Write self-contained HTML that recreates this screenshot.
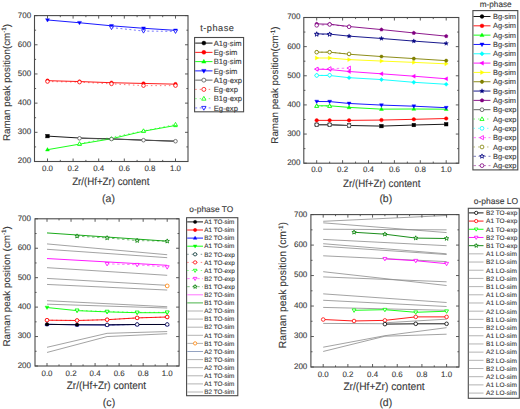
<!DOCTYPE html>
<html><head><meta charset="utf-8"><style>
html,body{margin:0;padding:0;background:#fff;}
svg{display:block;font-family:"Liberation Sans", sans-serif;text-rendering:geometricPrecision;}
text{stroke:#3a3a3a;stroke-width:0.12px;}
</style></head><body>
<svg width="520" height="409" viewBox="0 0 520 409">
<rect width="520" height="409" fill="#fff"/>
<path d="M47.5 19.98 L79.5 22.75 L111.5 25.81 L143.5 28.29 L175.5 30.34" stroke="#0000ff" stroke-width="0.9" fill="none"/>
<path d="M47.5 22.05 L49.47 18.63 L45.53 18.63Z" fill="#0000ff" stroke="#0000ff" stroke-width="0.4"/>
<path d="M79.5 24.82 L81.47 21.4 L77.53 21.4Z" fill="#0000ff" stroke="#0000ff" stroke-width="0.4"/>
<path d="M111.5 27.88 L113.47 24.47 L109.53 24.47Z" fill="#0000ff" stroke="#0000ff" stroke-width="0.4"/>
<path d="M143.5 30.36 L145.47 26.95 L141.53 26.95Z" fill="#0000ff" stroke="#0000ff" stroke-width="0.4"/>
<path d="M175.5 32.41 L177.47 28.99 L173.53 28.99Z" fill="#0000ff" stroke="#0000ff" stroke-width="0.4"/>
<path d="M47.5 80.67 L79.5 81.55 L111.5 82.71 L143.5 83.44 L175.5 84.17" stroke="#ff0000" stroke-width="0.9" fill="none"/>
<circle cx="47.5" cy="80.67" r="1.8" fill="#ff0000" stroke="#ff0000" stroke-width="0.4"/>
<circle cx="79.5" cy="81.55" r="1.8" fill="#ff0000" stroke="#ff0000" stroke-width="0.4"/>
<circle cx="111.5" cy="82.71" r="1.8" fill="#ff0000" stroke="#ff0000" stroke-width="0.4"/>
<circle cx="143.5" cy="83.44" r="1.8" fill="#ff0000" stroke="#ff0000" stroke-width="0.4"/>
<circle cx="175.5" cy="84.17" r="1.8" fill="#ff0000" stroke="#ff0000" stroke-width="0.4"/>
<path d="M47.5 136.11 L79.5 138.01 L111.5 138.89 L143.5 140.11 L175.5 141.19" stroke="#000000" stroke-width="0.9" fill="none"/>
<rect x="45.7" y="134.31" width="3.6" height="3.6" fill="#000000" stroke="#000000" stroke-width="0.4"/>
<path d="M47.5 149.68 L79.5 144.14 L111.5 138.74 L143.5 131.21 L175.5 125.46" stroke="#00ff00" stroke-width="0.9" fill="none"/>
<path d="M47.5 147.61 L49.47 151.03 L45.53 151.03Z" fill="#00ff00" stroke="#00ff00" stroke-width="0.4"/>
<path d="M79.5 142.07 L81.47 145.48 L77.53 145.48Z" fill="#00ff00" stroke="#00ff00" stroke-width="0.4"/>
<path d="M111.5 136.67 L113.47 140.09 L109.53 140.09Z" fill="#00ff00" stroke="#00ff00" stroke-width="0.4"/>
<path d="M143.5 129.14 L145.47 132.56 L141.53 132.56Z" fill="#00ff00" stroke="#00ff00" stroke-width="0.4"/>
<path d="M175.5 123.39 L177.47 126.81 L173.53 126.81Z" fill="#00ff00" stroke="#00ff00" stroke-width="0.4"/>
<path d="M111.5 27.56 L143.5 31.07 L175.5 31.36" stroke="#0000ff" stroke-width="0.9" fill="none" stroke-dasharray="2 2.5" opacity="0.6"/>
<path d="M111.5 29.63 L113.47 26.22 L109.53 26.22Z" fill="white" stroke="#0000ff" stroke-width="0.8"/>
<path d="M143.5 33.14 L145.47 29.72 L141.53 29.72Z" fill="white" stroke="#0000ff" stroke-width="0.8"/>
<path d="M175.5 33.43 L177.47 30.01 L173.53 30.01Z" fill="white" stroke="#0000ff" stroke-width="0.8"/>
<path d="M47.5 81.55 L79.5 82.13 L111.5 83.88 L143.5 85.63 L175.5 85.63" stroke="#ff0000" stroke-width="0.9" fill="none" stroke-dasharray="1.5 3" opacity="0.6"/>
<circle cx="47.5" cy="81.55" r="1.8" fill="white" stroke="#ff0000" stroke-width="0.8"/>
<circle cx="79.5" cy="82.13" r="1.8" fill="white" stroke="#ff0000" stroke-width="0.8"/>
<circle cx="111.5" cy="83.88" r="1.8" fill="white" stroke="#ff0000" stroke-width="0.8"/>
<circle cx="143.5" cy="85.63" r="1.8" fill="white" stroke="#ff0000" stroke-width="0.8"/>
<circle cx="175.5" cy="85.63" r="1.8" fill="white" stroke="#ff0000" stroke-width="0.8"/>
<path d="M79.5 138.3 L111.5 139.03 L143.5 140.2 L175.5 141.22" stroke="#555555" stroke-width="0.9" fill="none"/>
<circle cx="79.5" cy="138.3" r="1.8" fill="white" stroke="#555555" stroke-width="0.8"/>
<circle cx="111.5" cy="139.03" r="1.8" fill="white" stroke="#555555" stroke-width="0.8"/>
<circle cx="143.5" cy="140.2" r="1.8" fill="white" stroke="#555555" stroke-width="0.8"/>
<circle cx="175.5" cy="141.22" r="1.8" fill="white" stroke="#555555" stroke-width="0.8"/>
<path d="M79.5 143.7 L143.5 130.86 L175.5 124.44" stroke="#00ff00" stroke-width="0.9" fill="none" stroke-dasharray="1.5 3" opacity="0.6"/>
<path d="M79.5 141.63 L81.47 145.05 L77.53 145.05Z" fill="white" stroke="#00ff00" stroke-width="0.8"/>
<path d="M143.5 128.79 L145.47 132.21 L141.53 132.21Z" fill="white" stroke="#00ff00" stroke-width="0.8"/>
<path d="M175.5 122.37 L177.47 125.79 L173.53 125.79Z" fill="white" stroke="#00ff00" stroke-width="0.8"/>
<rect x="34.5" y="15.6" width="153.5" height="145.9" fill="none" stroke="#4a4a4a" stroke-width="1.1"/>
<path d="M47.5 161.5v-3M47.5 15.6v3M60.3 161.5v-1.6M60.3 15.6v1.6M73.1 161.5v-3M73.1 15.6v3M85.9 161.5v-1.6M85.9 15.6v1.6M98.7 161.5v-3M98.7 15.6v3M111.5 161.5v-1.6M111.5 15.6v1.6M124.3 161.5v-3M124.3 15.6v3M137.1 161.5v-1.6M137.1 15.6v1.6M149.9 161.5v-3M149.9 15.6v3M162.7 161.5v-1.6M162.7 15.6v1.6M175.5 161.5v-3M175.5 15.6v3M34.5 161.5h3M188 161.5h-3M34.5 146.91h1.6M188 146.91h-1.6M34.5 132.32h3M188 132.32h-3M34.5 117.73h1.6M188 117.73h-1.6M34.5 103.14h3M188 103.14h-3M34.5 88.55h1.6M188 88.55h-1.6M34.5 73.96h3M188 73.96h-3M34.5 59.37h1.6M188 59.37h-1.6M34.5 44.78h3M188 44.78h-3M34.5 30.19h1.6M188 30.19h-1.6M34.5 15.6h3M188 15.6h-3" stroke="#4a4a4a" stroke-width="0.9" fill="none"/>
<text x="31.2" y="163.4" font-size="8.0" text-anchor="end" fill="#3a3a3a">200</text>
<text x="31.2" y="134.22" font-size="8.0" text-anchor="end" fill="#3a3a3a">300</text>
<text x="31.2" y="105.04" font-size="8.0" text-anchor="end" fill="#3a3a3a">400</text>
<text x="31.2" y="75.86" font-size="8.0" text-anchor="end" fill="#3a3a3a">500</text>
<text x="31.2" y="46.68" font-size="8.0" text-anchor="end" fill="#3a3a3a">600</text>
<text x="31.2" y="17.5" font-size="8.0" text-anchor="end" fill="#3a3a3a">700</text>
<text x="47.5" y="170.6" font-size="7.9" text-anchor="middle" fill="#3a3a3a">0.0</text>
<text x="73.1" y="170.6" font-size="7.9" text-anchor="middle" fill="#3a3a3a">0.2</text>
<text x="98.7" y="170.6" font-size="7.9" text-anchor="middle" fill="#3a3a3a">0.4</text>
<text x="124.3" y="170.6" font-size="7.9" text-anchor="middle" fill="#3a3a3a">0.6</text>
<text x="149.9" y="170.6" font-size="7.9" text-anchor="middle" fill="#3a3a3a">0.8</text>
<text x="175.5" y="170.6" font-size="7.9" text-anchor="middle" fill="#3a3a3a">1.0</text>
<text transform="translate(9.7 82.5) rotate(-90)" x="0" y="0" font-size="9.8" text-anchor="middle" fill="#3a3a3a">Raman peak position(cm<tspan dy="-3.6" font-size="6.3">-1</tspan><tspan dy="3.6">)</tspan></text>
<text transform="translate(110.8 184.6) scale(1 1.1)" font-size="9.7" text-anchor="middle" fill="#3a3a3a">Zr/(Hf+Zr) content</text>
<text x="108.5" y="201.5" font-size="10.5" text-anchor="middle" fill="#3a3a3a">(a)</text>
<text x="217.3" y="30.8" font-size="9.2" text-anchor="middle" fill="#3a3a3a" letter-spacing="0.5">t-phase</text>
<rect x="194.6" y="37.5" width="49" height="74.3" fill="white" stroke="#4a4a4a" stroke-width="1.1"/>
<path d="M195.2 43.1H212.5" stroke="#000000" stroke-width="0.9"/>
<circle cx="203.85" cy="43.1" r="2" fill="#000000" stroke="#000000" stroke-width="0.4"/>
<text x="213.8" y="45.84" font-size="7.6" fill="#3a3a3a">A1g-sim</text>
<path d="M195.2 52.36H212.5" stroke="#ff0000" stroke-width="0.9"/>
<circle cx="203.85" cy="52.36" r="2" fill="#ff0000" stroke="#ff0000" stroke-width="0.4"/>
<text x="213.8" y="55.1" font-size="7.6" fill="#3a3a3a">Eg-sim</text>
<path d="M195.2 61.62H212.5" stroke="#00ff00" stroke-width="0.9"/>
<path d="M203.85 59.32 L206.03 63.12 L201.66 63.12Z" fill="#00ff00" stroke="#00ff00" stroke-width="0.4"/>
<text x="213.8" y="64.36" font-size="7.6" fill="#3a3a3a">B1g-sim</text>
<path d="M195.2 70.88H212.5" stroke="#0000ff" stroke-width="0.9"/>
<path d="M203.85 73.18 L206.03 69.38 L201.66 69.38Z" fill="#0000ff" stroke="#0000ff" stroke-width="0.4"/>
<text x="213.8" y="73.62" font-size="7.6" fill="#3a3a3a">Eg-sim</text>
<path d="M195.2 80.14H212.5" stroke="#555555" stroke-width="0.9"/>
<circle cx="203.85" cy="80.14" r="2" fill="white" stroke="#555555" stroke-width="0.8"/>
<text x="213.8" y="82.88" font-size="7.6" fill="#3a3a3a">A1g-exp</text>
<path d="M195.2 89.4H212.5" stroke="#ff0000" stroke-width="0.9" stroke-dasharray="1.5 3" opacity="0.55"/>
<circle cx="203.85" cy="89.4" r="2" fill="white" stroke="#ff0000" stroke-width="0.8"/>
<text x="213.8" y="92.14" font-size="7.6" fill="#3a3a3a">Eg-exp</text>
<path d="M195.2 98.66H212.5" stroke="#00ff00" stroke-width="0.9" stroke-dasharray="1.5 3" opacity="0.55"/>
<path d="M203.85 96.36 L206.03 100.16 L201.66 100.16Z" fill="white" stroke="#00ff00" stroke-width="0.8"/>
<text x="213.8" y="101.4" font-size="7.6" fill="#3a3a3a">B1g-exp</text>
<path d="M195.2 107.92H212.5" stroke="#0000ff" stroke-width="0.9" stroke-dasharray="2 2.5" opacity="0.55"/>
<path d="M203.85 110.22 L206.03 106.42 L201.66 106.42Z" fill="white" stroke="#0000ff" stroke-width="0.8"/>
<text x="213.8" y="110.66" font-size="7.6" fill="#3a3a3a">Eg-exp</text>
<path d="M316.7 124.74 L329.65 124.74 L349.07 125.49 L381.45 126.1 L413.82 125.03 L446.2 124.21" stroke="#000000" stroke-width="0.9" fill="none"/>
<rect x="314.9" y="122.94" width="3.6" height="3.6" fill="#000000" stroke="#000000" stroke-width="0.4"/>
<rect x="327.85" y="122.94" width="3.6" height="3.6" fill="#000000" stroke="#000000" stroke-width="0.4"/>
<rect x="347.27" y="123.69" width="3.6" height="3.6" fill="#000000" stroke="#000000" stroke-width="0.4"/>
<rect x="379.65" y="124.3" width="3.6" height="3.6" fill="#000000" stroke="#000000" stroke-width="0.4"/>
<rect x="412.02" y="123.23" width="3.6" height="3.6" fill="#000000" stroke="#000000" stroke-width="0.4"/>
<rect x="444.4" y="122.41" width="3.6" height="3.6" fill="#000000" stroke="#000000" stroke-width="0.4"/>
<path d="M316.7 120.36 L329.65 120.36 L349.07 120.36 L381.45 120.07 L413.82 119.32 L446.2 118.5" stroke="#ff0000" stroke-width="0.9" fill="none"/>
<circle cx="316.7" cy="120.36" r="1.8" fill="#ff0000" stroke="#ff0000" stroke-width="0.4"/>
<circle cx="329.65" cy="120.36" r="1.8" fill="#ff0000" stroke="#ff0000" stroke-width="0.4"/>
<circle cx="349.07" cy="120.36" r="1.8" fill="#ff0000" stroke="#ff0000" stroke-width="0.4"/>
<circle cx="381.45" cy="120.07" r="1.8" fill="#ff0000" stroke="#ff0000" stroke-width="0.4"/>
<circle cx="413.82" cy="119.32" r="1.8" fill="#ff0000" stroke="#ff0000" stroke-width="0.4"/>
<circle cx="446.2" cy="118.5" r="1.8" fill="#ff0000" stroke="#ff0000" stroke-width="0.4"/>
<path d="M316.7 105.79 L329.65 105.79 L349.07 107.4 L381.45 109.15 L413.82 109 L446.2 109.2" stroke="#00ff00" stroke-width="0.9" fill="none"/>
<path d="M316.7 103.72 L318.67 107.14 L314.73 107.14Z" fill="#00ff00" stroke="#00ff00" stroke-width="0.4"/>
<path d="M329.65 103.72 L331.62 107.14 L327.68 107.14Z" fill="#00ff00" stroke="#00ff00" stroke-width="0.4"/>
<path d="M349.07 105.33 L351.04 108.74 L347.11 108.74Z" fill="#00ff00" stroke="#00ff00" stroke-width="0.4"/>
<path d="M381.45 107.08 L383.42 110.49 L379.48 110.49Z" fill="#00ff00" stroke="#00ff00" stroke-width="0.4"/>
<path d="M413.82 106.93 L415.79 110.35 L411.86 110.35Z" fill="#00ff00" stroke="#00ff00" stroke-width="0.4"/>
<path d="M446.2 107.13 L448.17 110.55 L444.23 110.55Z" fill="#00ff00" stroke="#00ff00" stroke-width="0.4"/>
<path d="M316.7 101.51 L329.65 101.57 L349.07 103.46 L381.45 105.09 L413.82 106.2 L446.2 107.69" stroke="#0000ff" stroke-width="0.9" fill="none"/>
<path d="M316.7 103.58 L318.67 100.17 L314.73 100.17Z" fill="#0000ff" stroke="#0000ff" stroke-width="0.4"/>
<path d="M329.65 103.64 L331.62 100.22 L327.68 100.22Z" fill="#0000ff" stroke="#0000ff" stroke-width="0.4"/>
<path d="M349.07 105.53 L351.04 102.12 L347.11 102.12Z" fill="#0000ff" stroke="#0000ff" stroke-width="0.4"/>
<path d="M381.45 107.16 L383.42 103.75 L379.48 103.75Z" fill="#0000ff" stroke="#0000ff" stroke-width="0.4"/>
<path d="M413.82 108.27 L415.79 104.86 L411.86 104.86Z" fill="#0000ff" stroke="#0000ff" stroke-width="0.4"/>
<path d="M446.2 109.76 L448.17 106.34 L444.23 106.34Z" fill="#0000ff" stroke="#0000ff" stroke-width="0.4"/>
<path d="M316.7 75.4 L329.65 75.49 L349.07 77.7 L381.45 79.57 L413.82 82.31 L446.2 84.29" stroke="#00ffff" stroke-width="0.9" fill="none"/>
<path d="M316.7 73.33 L318.77 75.4 L316.7 77.47 L314.63 75.4Z" fill="#00ffff" stroke="#00ffff" stroke-width="0.4"/>
<path d="M329.65 73.42 L331.72 75.49 L329.65 77.56 L327.58 75.49Z" fill="#00ffff" stroke="#00ffff" stroke-width="0.4"/>
<path d="M349.07 75.63 L351.14 77.7 L349.07 79.77 L347 77.7Z" fill="#00ffff" stroke="#00ffff" stroke-width="0.4"/>
<path d="M381.45 77.5 L383.52 79.57 L381.45 81.64 L379.38 79.57Z" fill="#00ffff" stroke="#00ffff" stroke-width="0.4"/>
<path d="M413.82 80.24 L415.89 82.31 L413.82 84.38 L411.75 82.31Z" fill="#00ffff" stroke="#00ffff" stroke-width="0.4"/>
<path d="M446.2 82.22 L448.27 84.29 L446.2 86.36 L444.13 84.29Z" fill="#00ffff" stroke="#00ffff" stroke-width="0.4"/>
<path d="M316.7 69.19 L329.65 69.51 L349.07 71.5 L381.45 73.8 L413.82 76.19 L446.2 78.78" stroke="#ff00ff" stroke-width="0.9" fill="none"/>
<path d="M314.63 69.19 L318.05 67.23 L318.05 71.16Z" fill="#ff00ff" stroke="#ff00ff" stroke-width="0.4"/>
<path d="M327.58 69.51 L331 67.55 L331 71.48Z" fill="#ff00ff" stroke="#ff00ff" stroke-width="0.4"/>
<path d="M347 71.5 L350.42 69.53 L350.42 73.46Z" fill="#ff00ff" stroke="#ff00ff" stroke-width="0.4"/>
<path d="M379.38 73.8 L382.8 71.83 L382.8 75.76Z" fill="#ff00ff" stroke="#ff00ff" stroke-width="0.4"/>
<path d="M411.75 76.19 L415.17 74.22 L415.17 78.15Z" fill="#ff00ff" stroke="#ff00ff" stroke-width="0.4"/>
<path d="M444.13 78.78 L447.55 76.81 L447.55 80.75Z" fill="#ff00ff" stroke="#ff00ff" stroke-width="0.4"/>
<path d="M316.7 58 L329.65 58 L349.07 59.61 L381.45 61.06 L413.82 62.38 L446.2 63.83" stroke="#ffff00" stroke-width="0.9" fill="none"/>
<path d="M318.77 58 L315.35 56.04 L315.35 59.97Z" fill="#ffff00" stroke="#ffff00" stroke-width="0.4"/>
<path d="M331.72 58 L328.3 56.04 L328.3 59.97Z" fill="#ffff00" stroke="#ffff00" stroke-width="0.4"/>
<path d="M351.14 59.61 L347.73 57.64 L347.73 61.57Z" fill="#ffff00" stroke="#ffff00" stroke-width="0.4"/>
<path d="M383.52 61.06 L380.1 59.1 L380.1 63.03Z" fill="#ffff00" stroke="#ffff00" stroke-width="0.4"/>
<path d="M415.89 62.38 L412.48 60.41 L412.48 64.34Z" fill="#ffff00" stroke="#ffff00" stroke-width="0.4"/>
<path d="M448.27 63.83 L444.85 61.87 L444.85 65.8Z" fill="#ffff00" stroke="#ffff00" stroke-width="0.4"/>
<path d="M316.7 52.18 L329.65 52.18 L349.07 54.22 L381.45 56.55 L413.82 58.59 L446.2 60.63" stroke="#808000" stroke-width="0.9" fill="none"/>
<path d="M318.5 52.18 L317.6 53.74 L315.8 53.74 L314.9 52.18 L315.8 50.62 L317.6 50.62Z" fill="#808000" stroke="#808000" stroke-width="0.4"/>
<path d="M331.45 52.18 L330.55 53.74 L328.75 53.74 L327.85 52.18 L328.75 50.62 L330.55 50.62Z" fill="#808000" stroke="#808000" stroke-width="0.4"/>
<path d="M350.88 54.22 L349.97 55.78 L348.18 55.78 L347.27 54.22 L348.18 52.66 L349.97 52.66Z" fill="#808000" stroke="#808000" stroke-width="0.4"/>
<path d="M383.25 56.55 L382.35 58.11 L380.55 58.11 L379.65 56.55 L380.55 54.99 L382.35 54.99Z" fill="#808000" stroke="#808000" stroke-width="0.4"/>
<path d="M415.62 58.59 L414.72 60.15 L412.93 60.15 L412.02 58.59 L412.93 57.03 L414.72 57.03Z" fill="#808000" stroke="#808000" stroke-width="0.4"/>
<path d="M448 60.63 L447.1 62.19 L445.3 62.19 L444.4 60.63 L445.3 59.07 L447.1 59.07Z" fill="#808000" stroke="#808000" stroke-width="0.4"/>
<path d="M316.7 33.82 L329.65 34.11 L349.07 36.15 L381.45 38.48 L413.82 41.1 L446.2 43.43" stroke="#000080" stroke-width="0.9" fill="none"/>
<path d="M316.7 31.54 L317.25 33.06 L318.87 33.11 L317.59 34.11 L318.04 35.66 L316.7 34.75 L315.36 35.66 L315.81 34.11 L314.53 33.11 L316.15 33.06Z" fill="#000080" stroke="#000080" stroke-width="0.4"/>
<path d="M329.65 31.83 L330.2 33.36 L331.82 33.41 L330.54 34.4 L330.99 35.95 L329.65 35.04 L328.31 35.95 L328.76 34.4 L327.48 33.41 L329.1 33.36Z" fill="#000080" stroke="#000080" stroke-width="0.4"/>
<path d="M349.07 33.87 L349.62 35.4 L351.24 35.45 L349.96 36.44 L350.41 37.99 L349.07 37.08 L347.74 37.99 L348.19 36.44 L346.91 35.45 L348.53 35.4Z" fill="#000080" stroke="#000080" stroke-width="0.4"/>
<path d="M381.45 36.2 L382 37.73 L383.62 37.78 L382.34 38.77 L382.79 40.32 L381.45 39.41 L380.11 40.32 L380.56 38.77 L379.28 37.78 L380.9 37.73Z" fill="#000080" stroke="#000080" stroke-width="0.4"/>
<path d="M413.82 38.83 L414.37 40.35 L415.99 40.4 L414.71 41.39 L415.16 42.95 L413.82 42.03 L412.49 42.95 L412.94 41.39 L411.66 40.4 L413.28 40.35Z" fill="#000080" stroke="#000080" stroke-width="0.4"/>
<path d="M446.2 41.16 L446.75 42.68 L448.37 42.73 L447.09 43.72 L447.54 45.28 L446.2 44.37 L444.86 45.28 L445.31 43.72 L444.03 42.73 L445.65 42.68Z" fill="#000080" stroke="#000080" stroke-width="0.4"/>
<path d="M316.7 23.91 L329.65 24.2 L349.07 26.53 L381.45 29.59 L413.82 32.94 L446.2 36.15" stroke="#800080" stroke-width="0.9" fill="none"/>
<path d="M316.7 22.02 L318.5 23.33 L317.81 25.44 L315.59 25.44 L314.9 23.33Z" fill="#800080" stroke="#800080" stroke-width="0.4"/>
<path d="M329.65 22.31 L331.45 23.62 L330.76 25.73 L328.54 25.73 L327.85 23.62Z" fill="#800080" stroke="#800080" stroke-width="0.4"/>
<path d="M349.07 24.64 L350.87 25.95 L350.19 28.06 L347.96 28.06 L347.28 25.95Z" fill="#800080" stroke="#800080" stroke-width="0.4"/>
<path d="M381.45 27.7 L383.25 29.01 L382.56 31.12 L380.34 31.12 L379.65 29.01Z" fill="#800080" stroke="#800080" stroke-width="0.4"/>
<path d="M413.82 31.05 L415.62 32.36 L414.94 34.47 L412.71 34.47 L412.03 32.36Z" fill="#800080" stroke="#800080" stroke-width="0.4"/>
<path d="M446.2 34.26 L448 35.57 L447.31 37.68 L445.09 37.68 L444.4 35.57Z" fill="#800080" stroke="#800080" stroke-width="0.4"/>
<path d="M316.7 124.74 L329.65 124.74 L349.07 125.61" stroke="#555555" stroke-width="0.9" fill="none"/>
<circle cx="316.7" cy="124.74" r="1.8" fill="white" stroke="#555555" stroke-width="0.8"/>
<circle cx="329.65" cy="124.74" r="1.8" fill="white" stroke="#555555" stroke-width="0.8"/>
<circle cx="349.07" cy="125.61" r="1.8" fill="white" stroke="#555555" stroke-width="0.8"/>
<path d="M316.7 106.09 L329.65 106.09" stroke="#00ff00" stroke-width="0.9" fill="none" stroke-dasharray="1.5 3" opacity="0.6"/>
<path d="M316.7 104.02 L318.67 107.43 L314.73 107.43Z" fill="white" stroke="#00ff00" stroke-width="0.8"/>
<path d="M329.65 104.02 L331.62 107.43 L327.68 107.43Z" fill="white" stroke="#00ff00" stroke-width="0.8"/>
<path d="M316.7 75.49 L329.65 75.2" stroke="#00ffff" stroke-width="0.9" fill="none" stroke-dasharray="1.5 3" opacity="0.6"/>
<circle cx="316.7" cy="75.49" r="1.8" fill="white" stroke="#00ffff" stroke-width="0.8"/>
<circle cx="329.65" cy="75.2" r="1.8" fill="white" stroke="#00ffff" stroke-width="0.8"/>
<path d="M316.7 69.08 L329.65 68.64 L349.07 68.06" stroke="#ff00ff" stroke-width="0.9" fill="none" stroke-dasharray="2.5 2.5" opacity="0.6"/>
<path d="M314.63 69.08 L318.05 67.11 L318.05 71.04Z" fill="white" stroke="#ff00ff" stroke-width="0.8"/>
<path d="M327.58 68.64 L331 66.67 L331 70.61Z" fill="white" stroke="#ff00ff" stroke-width="0.8"/>
<path d="M347 68.06 L350.42 66.09 L350.42 70.02Z" fill="white" stroke="#ff00ff" stroke-width="0.8"/>
<path d="M316.7 52.18 L329.65 52.18 L349.07 53.92" stroke="#808000" stroke-width="0.9" fill="none" stroke-dasharray="1.5 3" opacity="0.6"/>
<circle cx="316.7" cy="52.18" r="1.8" fill="white" stroke="#808000" stroke-width="0.8"/>
<circle cx="329.65" cy="52.18" r="1.8" fill="white" stroke="#808000" stroke-width="0.8"/>
<circle cx="349.07" cy="53.92" r="1.8" fill="white" stroke="#808000" stroke-width="0.8"/>
<path d="M316.7 34.4 L329.65 34.4" stroke="#000080" stroke-width="0.9" fill="none" stroke-dasharray="2.5 2.5" opacity="0.6"/>
<path d="M316.7 32.12 L317.25 33.65 L318.87 33.7 L317.59 34.69 L318.04 36.24 L316.7 35.33 L315.36 36.24 L315.81 34.69 L314.53 33.7 L316.15 33.65Z" fill="white" stroke="#000080" stroke-width="0.8"/>
<path d="M329.65 32.12 L330.2 33.65 L331.82 33.7 L330.54 34.69 L330.99 36.24 L329.65 35.33 L328.31 36.24 L328.76 34.69 L327.48 33.7 L329.1 33.65Z" fill="white" stroke="#000080" stroke-width="0.8"/>
<path d="M316.7 25.37 L329.65 24.49 L349.07 26.82" stroke="#800080" stroke-width="0.9" fill="none" stroke-dasharray="2.5 2.5" opacity="0.6"/>
<circle cx="316.7" cy="25.37" r="1.8" fill="white" stroke="#800080" stroke-width="0.8"/>
<circle cx="329.65" cy="24.49" r="1.8" fill="white" stroke="#800080" stroke-width="0.8"/>
<circle cx="349.07" cy="26.82" r="1.8" fill="white" stroke="#800080" stroke-width="0.8"/>
<rect x="303.8" y="17.5" width="155" height="145.7" fill="none" stroke="#4a4a4a" stroke-width="1.1"/>
<path d="M316.7 163.2v-3M316.7 17.5v3M329.65 163.2v-1.6M329.65 17.5v1.6M342.6 163.2v-3M342.6 17.5v3M355.55 163.2v-1.6M355.55 17.5v1.6M368.5 163.2v-3M368.5 17.5v3M381.45 163.2v-1.6M381.45 17.5v1.6M394.4 163.2v-3M394.4 17.5v3M407.35 163.2v-1.6M407.35 17.5v1.6M420.3 163.2v-3M420.3 17.5v3M433.25 163.2v-1.6M433.25 17.5v1.6M446.2 163.2v-3M446.2 17.5v3M303.8 163.2h3M458.8 163.2h-3M303.8 148.63h1.6M458.8 148.63h-1.6M303.8 134.06h3M458.8 134.06h-3M303.8 119.49h1.6M458.8 119.49h-1.6M303.8 104.92h3M458.8 104.92h-3M303.8 90.35h1.6M458.8 90.35h-1.6M303.8 75.78h3M458.8 75.78h-3M303.8 61.21h1.6M458.8 61.21h-1.6M303.8 46.64h3M458.8 46.64h-3M303.8 32.07h1.6M458.8 32.07h-1.6M303.8 17.5h3M458.8 17.5h-3" stroke="#4a4a4a" stroke-width="0.9" fill="none"/>
<text x="300.5" y="165.1" font-size="8.0" text-anchor="end" fill="#3a3a3a">200</text>
<text x="300.5" y="135.96" font-size="8.0" text-anchor="end" fill="#3a3a3a">300</text>
<text x="300.5" y="106.82" font-size="8.0" text-anchor="end" fill="#3a3a3a">400</text>
<text x="300.5" y="77.68" font-size="8.0" text-anchor="end" fill="#3a3a3a">500</text>
<text x="300.5" y="48.54" font-size="8.0" text-anchor="end" fill="#3a3a3a">600</text>
<text x="300.5" y="19.4" font-size="8.0" text-anchor="end" fill="#3a3a3a">700</text>
<text x="316.7" y="172" font-size="7.9" text-anchor="middle" fill="#3a3a3a">0.0</text>
<text x="342.6" y="172" font-size="7.9" text-anchor="middle" fill="#3a3a3a">0.2</text>
<text x="368.5" y="172" font-size="7.9" text-anchor="middle" fill="#3a3a3a">0.4</text>
<text x="394.4" y="172" font-size="7.9" text-anchor="middle" fill="#3a3a3a">0.6</text>
<text x="420.3" y="172" font-size="7.9" text-anchor="middle" fill="#3a3a3a">0.8</text>
<text x="446.2" y="172" font-size="7.9" text-anchor="middle" fill="#3a3a3a">1.0</text>
<text transform="translate(278.1 85.05) rotate(-90)" x="0" y="0" font-size="9.8" text-anchor="middle" fill="#3a3a3a">Raman peak position(cm<tspan dy="-3.6" font-size="6.3">-1</tspan><tspan dy="3.6">)</tspan></text>
<text transform="translate(381.7 186.6) scale(1 1.1)" font-size="9.7" text-anchor="middle" fill="#3a3a3a">Zr/(Hf+Zr) content</text>
<text x="385.8" y="201.8" font-size="10.5" text-anchor="middle" fill="#3a3a3a">(b)</text>
<text x="495.7" y="6.8" font-size="8.2" text-anchor="middle" fill="#3a3a3a">m-phase</text>
<rect x="472.9" y="10.6" width="44.9" height="159.3" fill="white" stroke="#4a4a4a" stroke-width="1.1"/>
<path d="M473.5 16.5H490.5" stroke="#000000" stroke-width="0.9"/>
<circle cx="482" cy="16.5" r="1.9" fill="#000000" stroke="#000000" stroke-width="0.4"/>
<text x="493" y="19.16" font-size="7.4" fill="#3a3a3a">Bg-sim</text>
<path d="M473.5 25.82H490.5" stroke="#ff0000" stroke-width="0.9"/>
<circle cx="482" cy="25.82" r="1.9" fill="#ff0000" stroke="#ff0000" stroke-width="0.4"/>
<text x="493" y="28.48" font-size="7.4" fill="#3a3a3a">Ag-sim</text>
<path d="M473.5 35.14H490.5" stroke="#00ff00" stroke-width="0.9"/>
<path d="M482 32.95 L484.08 36.56 L479.92 36.56Z" fill="#00ff00" stroke="#00ff00" stroke-width="0.4"/>
<text x="493" y="37.8" font-size="7.4" fill="#3a3a3a">Ag-sim</text>
<path d="M473.5 44.46H490.5" stroke="#0000ff" stroke-width="0.9"/>
<path d="M482 46.65 L484.08 43.04 L479.92 43.04Z" fill="#0000ff" stroke="#0000ff" stroke-width="0.4"/>
<text x="493" y="47.12" font-size="7.4" fill="#3a3a3a">Bg-sim</text>
<path d="M473.5 53.78H490.5" stroke="#00ffff" stroke-width="0.9"/>
<path d="M482 51.59 L484.19 53.78 L482 55.97 L479.81 53.78Z" fill="#00ffff" stroke="#00ffff" stroke-width="0.4"/>
<text x="493" y="56.44" font-size="7.4" fill="#3a3a3a">Ag-sim</text>
<path d="M473.5 63.1H490.5" stroke="#ff00ff" stroke-width="0.9"/>
<path d="M479.81 63.1 L483.42 61.02 L483.42 65.18Z" fill="#ff00ff" stroke="#ff00ff" stroke-width="0.4"/>
<text x="493" y="65.76" font-size="7.4" fill="#3a3a3a">Bg-sim</text>
<path d="M473.5 72.42H490.5" stroke="#ffff00" stroke-width="0.9"/>
<path d="M484.19 72.42 L480.58 70.34 L480.58 74.5Z" fill="#ffff00" stroke="#ffff00" stroke-width="0.4"/>
<text x="493" y="75.08" font-size="7.4" fill="#3a3a3a">Bg-sim</text>
<path d="M473.5 81.74H490.5" stroke="#808000" stroke-width="0.9"/>
<path d="M483.9 81.74 L482.95 83.39 L481.05 83.39 L480.1 81.74 L481.05 80.09 L482.95 80.09Z" fill="#808000" stroke="#808000" stroke-width="0.4"/>
<text x="493" y="84.4" font-size="7.4" fill="#3a3a3a">Ag-sim</text>
<path d="M473.5 91.06H490.5" stroke="#000080" stroke-width="0.9"/>
<path d="M482 88.66 L482.58 90.26 L484.29 90.32 L482.94 91.36 L483.41 93 L482 92.04 L480.59 93 L481.06 91.36 L479.71 90.32 L481.42 90.26Z" fill="#000080" stroke="#000080" stroke-width="0.4"/>
<text x="493" y="93.72" font-size="7.4" fill="#3a3a3a">Bg-sim</text>
<path d="M473.5 100.38H490.5" stroke="#800080" stroke-width="0.9"/>
<path d="M482 98.38 L483.9 99.76 L483.17 101.99 L480.83 101.99 L480.1 99.76Z" fill="#800080" stroke="#800080" stroke-width="0.4"/>
<text x="493" y="103.04" font-size="7.4" fill="#3a3a3a">Ag-sim</text>
<path d="M473.5 109.7H490.5" stroke="#555555" stroke-width="0.9"/>
<circle cx="482" cy="109.7" r="1.9" fill="white" stroke="#555555" stroke-width="0.8"/>
<text x="493" y="112.36" font-size="7.4" fill="#3a3a3a">Bg-exp</text>
<path d="M473.5 119.02H490.5" stroke="#00ff00" stroke-width="0.9" stroke-dasharray="1.5 3" opacity="0.55"/>
<path d="M482 116.84 L484.08 120.44 L479.92 120.44Z" fill="white" stroke="#00ff00" stroke-width="0.8"/>
<text x="493" y="121.68" font-size="7.4" fill="#3a3a3a">Ag-exp</text>
<path d="M473.5 128.34H490.5" stroke="#00ffff" stroke-width="0.9" stroke-dasharray="1.5 3" opacity="0.55"/>
<circle cx="482" cy="128.34" r="1.9" fill="white" stroke="#00ffff" stroke-width="0.8"/>
<text x="493" y="131" font-size="7.4" fill="#3a3a3a">Ag-exp</text>
<path d="M473.5 137.66H490.5" stroke="#ff00ff" stroke-width="0.9" stroke-dasharray="2.5 2.5" opacity="0.55"/>
<path d="M479.81 137.66 L483.42 135.58 L483.42 139.74Z" fill="white" stroke="#ff00ff" stroke-width="0.8"/>
<text x="493" y="140.32" font-size="7.4" fill="#3a3a3a">Bg-exp</text>
<path d="M473.5 146.98H490.5" stroke="#808000" stroke-width="0.9" stroke-dasharray="1.5 3" opacity="0.55"/>
<circle cx="482" cy="146.98" r="1.9" fill="white" stroke="#808000" stroke-width="0.8"/>
<text x="493" y="149.64" font-size="7.4" fill="#3a3a3a">Ag-exp</text>
<path d="M473.5 156.3H490.5" stroke="#000080" stroke-width="0.9" stroke-dasharray="2.5 2.5" opacity="0.55"/>
<path d="M482 153.9 L482.58 155.5 L484.29 155.56 L482.94 156.6 L483.41 158.24 L482 157.28 L480.59 158.24 L481.06 156.6 L479.71 155.56 L481.42 155.5Z" fill="white" stroke="#000080" stroke-width="0.8"/>
<text x="493" y="158.96" font-size="7.4" fill="#3a3a3a">Bg-exp</text>
<path d="M473.5 165.62H490.5" stroke="#800080" stroke-width="0.9" stroke-dasharray="2.5 2.5" opacity="0.55"/>
<circle cx="482" cy="165.62" r="1.9" fill="white" stroke="#800080" stroke-width="0.8"/>
<text x="493" y="168.28" font-size="7.4" fill="#3a3a3a">Ag-exp</text>
<path d="M47 243.91 L167.2 254.72" stroke="#8c8c8c" stroke-width="0.8" fill="none"/>
<path d="M47 249.3 L167.2 257.66" stroke="#8c8c8c" stroke-width="0.8" fill="none"/>
<path d="M47 267.67 L167.2 275.32" stroke="#8c8c8c" stroke-width="0.8" fill="none"/>
<path d="M47 278.42 L167.2 285.33" stroke="#8c8c8c" stroke-width="0.8" fill="none"/>
<path d="M47 284.45 L167.2 290.04" stroke="#8c8c8c" stroke-width="0.8" fill="none"/>
<path d="M47 300.7 L167.2 306.71" stroke="#8c8c8c" stroke-width="0.8" fill="none"/>
<path d="M47 304.18 L167.2 308" stroke="#8c8c8c" stroke-width="0.8" fill="none"/>
<path d="M47 347.31 L107.1 333.32 L167.2 331.56" stroke="#8c8c8c" stroke-width="0.8" fill="none"/>
<path d="M47 352.46 L107.1 336.56 L167.2 333.76" stroke="#8c8c8c" stroke-width="0.8" fill="none"/>
<path d="M47 258.54 L167.2 265.32" stroke="#ff00ff" stroke-width="0.9" fill="none"/>
<path d="M47 232.93 L167.2 241.17" stroke="#00a000" stroke-width="0.9" fill="none"/>
<path d="M47 307.5 L77.05 310.65 L107.1 311.89 L137.15 312.71 L167.2 312.71" stroke="#00ff00" stroke-width="0.9" fill="none"/>
<path d="M47 309.57 L48.97 306.16 L45.03 306.16Z" fill="#00ff00" stroke="#00ff00" stroke-width="0.4"/>
<path d="M77.05 312.72 L79.02 309.31 L75.08 309.31Z" fill="#00ff00" stroke="#00ff00" stroke-width="0.4"/>
<path d="M107.1 313.96 L109.07 310.54 L105.13 310.54Z" fill="#00ff00" stroke="#00ff00" stroke-width="0.4"/>
<path d="M137.15 314.78 L139.12 311.37 L135.18 311.37Z" fill="#00ff00" stroke="#00ff00" stroke-width="0.4"/>
<path d="M167.2 314.78 L169.17 311.37 L165.23 311.37Z" fill="#00ff00" stroke="#00ff00" stroke-width="0.4"/>
<path d="M47 320.19 L77.05 320.49 L107.1 319.69 L137.15 317.9 L167.2 317.01" stroke="#ff0000" stroke-width="0.9" fill="none"/>
<circle cx="47" cy="320.19" r="1.8" fill="#ff0000" stroke="#ff0000" stroke-width="0.4"/>
<circle cx="77.05" cy="320.49" r="1.8" fill="#ff0000" stroke="#ff0000" stroke-width="0.4"/>
<circle cx="107.1" cy="319.69" r="1.8" fill="#ff0000" stroke="#ff0000" stroke-width="0.4"/>
<circle cx="137.15" cy="317.9" r="1.8" fill="#ff0000" stroke="#ff0000" stroke-width="0.4"/>
<circle cx="167.2" cy="317.01" r="1.8" fill="#ff0000" stroke="#ff0000" stroke-width="0.4"/>
<path d="M47 324.34 L77.05 324.78 L107.1 324.9 L137.15 324.49 L167.2 324.49" stroke="#0000ff" stroke-width="0.9" fill="none"/>
<path d="M47 322.27 L48.97 325.69 L45.03 325.69Z" fill="#0000ff" stroke="#0000ff" stroke-width="0.4"/>
<path d="M77.05 322.71 L79.02 326.13 L75.08 326.13Z" fill="#0000ff" stroke="#0000ff" stroke-width="0.4"/>
<path d="M107.1 322.83 L109.07 326.25 L105.13 326.25Z" fill="#0000ff" stroke="#0000ff" stroke-width="0.4"/>
<path d="M137.15 322.42 L139.12 325.84 L135.18 325.84Z" fill="#0000ff" stroke="#0000ff" stroke-width="0.4"/>
<path d="M167.2 322.42 L169.17 325.84 L165.23 325.84Z" fill="#0000ff" stroke="#0000ff" stroke-width="0.4"/>
<path d="M47 324.34 L77.05 324.78 L107.1 324.9 L137.15 324.49 L167.2 324.49" stroke="#000000" stroke-width="0.9" fill="none"/>
<circle cx="47" cy="324.34" r="1.8" fill="#000000" stroke="#000000" stroke-width="0.4"/>
<circle cx="77.05" cy="324.78" r="1.8" fill="#000000" stroke="#000000" stroke-width="0.4"/>
<path d="M107.1 324.9 L137.15 324.49 L167.2 324.49" stroke="#000040" stroke-width="0.9" fill="none" stroke-dasharray="2.5 2.5" opacity="0.6"/>
<circle cx="107.1" cy="324.9" r="1.8" fill="white" stroke="#000040" stroke-width="0.8"/>
<circle cx="137.15" cy="324.49" r="1.8" fill="white" stroke="#000040" stroke-width="0.8"/>
<circle cx="167.2" cy="324.49" r="1.8" fill="white" stroke="#000040" stroke-width="0.8"/>
<path d="M47 320.19 L77.05 320.49 L107.1 319.69 L137.15 317.9 L167.2 317.01" stroke="#ff0000" stroke-width="0.9" fill="none" stroke-dasharray="1.5 3" opacity="0.6"/>
<circle cx="47" cy="320.19" r="1.8" fill="white" stroke="#ff0000" stroke-width="0.8"/>
<circle cx="77.05" cy="320.49" r="1.8" fill="white" stroke="#ff0000" stroke-width="0.8"/>
<circle cx="107.1" cy="319.69" r="1.8" fill="white" stroke="#ff0000" stroke-width="0.8"/>
<circle cx="137.15" cy="317.9" r="1.8" fill="white" stroke="#ff0000" stroke-width="0.8"/>
<circle cx="167.2" cy="317.01" r="1.8" fill="white" stroke="#ff0000" stroke-width="0.8"/>
<path d="M77.05 310.36 L107.1 311.54 L137.15 312.42 L167.2 312.27" stroke="#00ff00" stroke-width="0.9" fill="none" stroke-dasharray="1.5 3" opacity="0.6"/>
<path d="M77.05 312.43 L79.02 309.01 L75.08 309.01Z" fill="white" stroke="#00ff00" stroke-width="0.8"/>
<path d="M107.1 313.61 L109.07 310.19 L105.13 310.19Z" fill="white" stroke="#00ff00" stroke-width="0.8"/>
<path d="M137.15 314.49 L139.12 311.07 L135.18 311.07Z" fill="white" stroke="#00ff00" stroke-width="0.8"/>
<path d="M167.2 314.34 L169.17 310.93 L165.23 310.93Z" fill="white" stroke="#00ff00" stroke-width="0.8"/>
<path d="M107.1 263.84 L137.15 264.73 L167.2 267.08" stroke="#ff00ff" stroke-width="0.9" fill="none" stroke-dasharray="2.5 2.5" opacity="0.6"/>
<path d="M107.1 265.91 L109.07 262.5 L105.13 262.5Z" fill="white" stroke="#ff00ff" stroke-width="0.8"/>
<path d="M137.15 266.8 L139.12 263.38 L135.18 263.38Z" fill="white" stroke="#ff00ff" stroke-width="0.8"/>
<path d="M167.2 269.15 L169.17 265.74 L165.23 265.74Z" fill="white" stroke="#ff00ff" stroke-width="0.8"/>
<path d="M77.05 236.17 L107.1 237.94 L137.15 240.59 L167.2 241.17" stroke="#008000" stroke-width="0.9" fill="none" stroke-dasharray="2.5 2.5" opacity="0.6"/>
<path d="M77.05 233.89 L77.6 235.42 L79.22 235.47 L77.94 236.46 L78.39 238.01 L77.05 237.1 L75.71 238.01 L76.16 236.46 L74.88 235.47 L76.5 235.42Z" fill="white" stroke="#008000" stroke-width="0.8"/>
<path d="M107.1 235.66 L107.65 237.18 L109.27 237.23 L107.99 238.22 L108.44 239.78 L107.1 238.87 L105.76 239.78 L106.21 238.22 L104.93 237.23 L106.55 237.18Z" fill="white" stroke="#008000" stroke-width="0.8"/>
<path d="M137.15 238.31 L137.7 239.83 L139.32 239.88 L138.04 240.87 L138.49 242.43 L137.15 241.52 L135.81 242.43 L136.26 240.87 L134.98 239.88 L136.6 239.83Z" fill="white" stroke="#008000" stroke-width="0.8"/>
<path d="M167.2 238.9 L167.75 240.42 L169.37 240.47 L168.09 241.46 L168.54 243.02 L167.2 242.11 L165.86 243.02 L166.31 241.46 L165.03 240.47 L166.65 240.42Z" fill="white" stroke="#008000" stroke-width="0.8"/>
<circle cx="167.2" cy="285.92" r="1.9" fill="white" stroke="#ff8000" stroke-width="0.8"/>
<rect x="35" y="218.8" width="144.1" height="147.2" fill="none" stroke="#4a4a4a" stroke-width="1.1"/>
<path d="M47 366v-3M47 218.8v3M59.02 366v-1.6M59.02 218.8v1.6M71.04 366v-3M71.04 218.8v3M83.06 366v-1.6M83.06 218.8v1.6M95.08 366v-3M95.08 218.8v3M107.1 366v-1.6M107.1 218.8v1.6M119.12 366v-3M119.12 218.8v3M131.14 366v-1.6M131.14 218.8v1.6M143.16 366v-3M143.16 218.8v3M155.18 366v-1.6M155.18 218.8v1.6M167.2 366v-3M167.2 218.8v3M35 366h3M179.1 366h-3M35 351.28h1.6M179.1 351.28h-1.6M35 336.56h3M179.1 336.56h-3M35 321.84h1.6M179.1 321.84h-1.6M35 307.12h3M179.1 307.12h-3M35 292.4h1.6M179.1 292.4h-1.6M35 277.68h3M179.1 277.68h-3M35 262.96h1.6M179.1 262.96h-1.6M35 248.24h3M179.1 248.24h-3M35 233.52h1.6M179.1 233.52h-1.6M35 218.8h3M179.1 218.8h-3" stroke="#4a4a4a" stroke-width="0.9" fill="none"/>
<text x="31" y="367.9" font-size="8.0" text-anchor="end" fill="#3a3a3a">200</text>
<text x="31" y="338.46" font-size="8.0" text-anchor="end" fill="#3a3a3a">300</text>
<text x="31" y="309.02" font-size="8.0" text-anchor="end" fill="#3a3a3a">400</text>
<text x="31" y="279.58" font-size="8.0" text-anchor="end" fill="#3a3a3a">500</text>
<text x="31" y="250.14" font-size="8.0" text-anchor="end" fill="#3a3a3a">600</text>
<text x="31" y="220.7" font-size="8.0" text-anchor="end" fill="#3a3a3a">700</text>
<text x="47" y="375.6" font-size="7.9" text-anchor="middle" fill="#3a3a3a">0.0</text>
<text x="71.04" y="375.6" font-size="7.9" text-anchor="middle" fill="#3a3a3a">0.2</text>
<text x="95.08" y="375.6" font-size="7.9" text-anchor="middle" fill="#3a3a3a">0.4</text>
<text x="119.12" y="375.6" font-size="7.9" text-anchor="middle" fill="#3a3a3a">0.6</text>
<text x="143.16" y="375.6" font-size="7.9" text-anchor="middle" fill="#3a3a3a">0.8</text>
<text x="167.2" y="375.6" font-size="7.9" text-anchor="middle" fill="#3a3a3a">1.0</text>
<text transform="translate(9.8 286.35) rotate(-90)" x="0" y="0" font-size="9.86" text-anchor="middle" fill="#3a3a3a">Raman peak position (cm<tspan dy="-3.6" font-size="6.3">-1</tspan><tspan dy="3.6">)</tspan></text>
<text transform="translate(106.4 388.6) scale(1 1.08)" font-size="9.95" text-anchor="middle" fill="#3a3a3a">Zr/(Hf+Zr) content</text>
<text x="109" y="405.8" font-size="10.6" text-anchor="middle" fill="#3a3a3a">(c)</text>
<text x="211.3" y="212.3" font-size="8.4" text-anchor="middle" fill="#3a3a3a">o-phase TO</text>
<rect x="186.6" y="217.7" width="51.2" height="178" fill="white" stroke="#4a4a4a" stroke-width="1.1"/>
<path d="M187.2 221.9H203" stroke="#000000" stroke-width="0.9"/>
<circle cx="195.1" cy="221.9" r="1.65" fill="#000000" stroke="#000000" stroke-width="0.4"/>
<text x="204.3" y="224.19" font-size="6.35" fill="#3a3a3a">A1 TO-sim</text>
<path d="M187.2 230H203" stroke="#ff0000" stroke-width="0.9"/>
<circle cx="195.1" cy="230" r="1.65" fill="#ff0000" stroke="#ff0000" stroke-width="0.4"/>
<text x="204.3" y="232.29" font-size="6.35" fill="#3a3a3a">A1 TO-sim</text>
<path d="M187.2 238.1H203" stroke="#0000ff" stroke-width="0.9"/>
<path d="M195.1 236.2 L196.9 239.33 L193.3 239.33Z" fill="#0000ff" stroke="#0000ff" stroke-width="0.4"/>
<text x="204.3" y="240.39" font-size="6.35" fill="#3a3a3a">B2 TO-sim</text>
<path d="M187.2 246.2H203" stroke="#00ff00" stroke-width="0.9"/>
<path d="M195.1 248.1 L196.9 244.97 L193.3 244.97Z" fill="#00ff00" stroke="#00ff00" stroke-width="0.4"/>
<text x="204.3" y="248.49" font-size="6.35" fill="#3a3a3a">A1 TO-sim</text>
<path d="M187.2 254.3H203" stroke="#003030" stroke-width="0.9" stroke-dasharray="1.5 3" opacity="0.55"/>
<circle cx="195.1" cy="254.3" r="1.65" fill="white" stroke="#003030" stroke-width="0.8"/>
<text x="204.3" y="256.59" font-size="6.35" fill="#3a3a3a">B2 TO-exp</text>
<path d="M187.2 262.4H203" stroke="#ff0000" stroke-width="0.9" stroke-dasharray="1.5 3" opacity="0.55"/>
<circle cx="195.1" cy="262.4" r="1.65" fill="white" stroke="#ff0000" stroke-width="0.8"/>
<text x="204.3" y="264.69" font-size="6.35" fill="#3a3a3a">A1 TO-exp</text>
<path d="M187.2 270.5H203" stroke="#00ff00" stroke-width="0.9" stroke-dasharray="1.5 3" opacity="0.55"/>
<path d="M195.1 272.4 L196.9 269.27 L193.3 269.27Z" fill="white" stroke="#00ff00" stroke-width="0.8"/>
<text x="204.3" y="272.79" font-size="6.35" fill="#3a3a3a">A1 TO-exp</text>
<path d="M187.2 278.6H203" stroke="#ff00ff" stroke-width="0.9" stroke-dasharray="2.5 2.5" opacity="0.55"/>
<path d="M195.1 280.5 L196.9 277.37 L193.3 277.37Z" fill="white" stroke="#ff00ff" stroke-width="0.8"/>
<text x="204.3" y="280.89" font-size="6.35" fill="#3a3a3a">B2 TO-exp</text>
<path d="M187.2 286.7H203" stroke="#008000" stroke-width="0.9" stroke-dasharray="2.5 2.5" opacity="0.55"/>
<path d="M195.1 284.61 L195.6 286.01 L197.09 286.06 L195.91 286.96 L196.33 288.39 L195.1 287.55 L193.87 288.39 L194.29 286.96 L193.11 286.06 L194.6 286.01Z" fill="white" stroke="#008000" stroke-width="0.8"/>
<text x="204.3" y="288.99" font-size="6.35" fill="#3a3a3a">B1 TO-exp</text>
<path d="M187.2 294.8H203" stroke="#ff66ff" stroke-width="0.9"/>
<text x="204.3" y="297.09" font-size="6.35" fill="#3a3a3a">B2 TO-sim</text>
<path d="M187.2 302.9H203" stroke="#33aa33" stroke-width="0.9"/>
<text x="204.3" y="305.19" font-size="6.35" fill="#3a3a3a">B1 TO-sim</text>
<path d="M187.2 311H203" stroke="#aaaaaa" stroke-width="0.9"/>
<text x="204.3" y="313.29" font-size="6.35" fill="#3a3a3a">A2 TO-sim</text>
<path d="M187.2 319.1H203" stroke="#aaaaaa" stroke-width="0.9"/>
<text x="204.3" y="321.39" font-size="6.35" fill="#3a3a3a">B1 TO-sim</text>
<path d="M187.2 327.2H203" stroke="#aaaaaa" stroke-width="0.9"/>
<text x="204.3" y="329.49" font-size="6.35" fill="#3a3a3a">B2 TO-sim</text>
<path d="M187.2 335.3H203" stroke="#aaaaaa" stroke-width="0.9"/>
<text x="204.3" y="337.59" font-size="6.35" fill="#3a3a3a">A1 TO-sim</text>
<path d="M187.2 343.4H203" stroke="#aaaaaa" stroke-width="0.9"/>
<circle cx="195.1" cy="343.4" r="1.65" fill="white" stroke="#ff8000" stroke-width="0.8"/>
<text x="204.3" y="345.69" font-size="6.35" fill="#3a3a3a">B1 TO-sim</text>
<path d="M187.2 351.5H203" stroke="#8899bb" stroke-width="0.9"/>
<text x="204.3" y="353.79" font-size="6.35" fill="#3a3a3a">A2 TO-sim</text>
<path d="M187.2 359.6H203" stroke="#aaaaaa" stroke-width="0.9"/>
<text x="204.3" y="361.89" font-size="6.35" fill="#3a3a3a">B2 TO-sim</text>
<path d="M187.2 367.7H203" stroke="#aaaaaa" stroke-width="0.9"/>
<text x="204.3" y="369.99" font-size="6.35" fill="#3a3a3a">A2 TO-sim</text>
<path d="M187.2 375.8H203" stroke="#aaaaaa" stroke-width="0.9"/>
<text x="204.3" y="378.09" font-size="6.35" fill="#3a3a3a">A1 TO-sim</text>
<path d="M187.2 383.9H203" stroke="#aaaaaa" stroke-width="0.9"/>
<text x="204.3" y="386.19" font-size="6.35" fill="#3a3a3a">A1 TO-sim</text>
<path d="M187.2 392H203" stroke="#aaaaaa" stroke-width="0.9"/>
<text x="204.3" y="394.29" font-size="6.35" fill="#3a3a3a">B2 TO-sim</text>
<path d="M323.2 221.31 L446.6 215.51" stroke="#8c8c8c" stroke-width="0.8" fill="none"/>
<path d="M323.2 222.83 L446.6 232.58" stroke="#8c8c8c" stroke-width="0.8" fill="none"/>
<path d="M323.2 229.23 L446.6 229.84" stroke="#8c8c8c" stroke-width="0.8" fill="none"/>
<path d="M323.2 239.41 L446.6 245.69" stroke="#8c8c8c" stroke-width="0.8" fill="none"/>
<path d="M323.2 243.71 L446.6 253.8" stroke="#8c8c8c" stroke-width="0.8" fill="none"/>
<path d="M323.2 246.3 L446.6 254.53" stroke="#8c8c8c" stroke-width="0.8" fill="none"/>
<path d="M323.2 255.81 L446.6 261.6" stroke="#8c8c8c" stroke-width="0.8" fill="none"/>
<path d="M323.2 271.69 L446.6 285.5" stroke="#8c8c8c" stroke-width="0.8" fill="none"/>
<path d="M323.2 276.9 L446.6 281.81" stroke="#8c8c8c" stroke-width="0.8" fill="none"/>
<path d="M323.2 293.85 L446.6 302.5" stroke="#8c8c8c" stroke-width="0.8" fill="none"/>
<path d="M323.2 300.25 L446.6 306.5" stroke="#8c8c8c" stroke-width="0.8" fill="none"/>
<path d="M323.2 307.41 L446.6 310.31" stroke="#8c8c8c" stroke-width="0.8" fill="none"/>
<path d="M323.2 323.41 L384.9 323.72" stroke="#8c8c8c" stroke-width="0.8" fill="none"/>
<path d="M384.9 322.8 L446.6 319.15" stroke="#8c8c8c" stroke-width="0.8" fill="none"/>
<path d="M323.2 347.19 L384.9 335.7 L446.6 327.68" stroke="#8c8c8c" stroke-width="0.8" fill="none"/>
<path d="M323.2 351.46 L384.9 336.22 L446.6 334.2" stroke="#8c8c8c" stroke-width="0.8" fill="none"/>
<path d="M354.05 232.28 L384.9 234.2 L415.75 238.07 L446.6 238.5" stroke="#008000" stroke-width="0.9" fill="none"/>
<path d="M354.05 230 L354.6 231.52 L356.22 231.57 L354.94 232.57 L355.39 234.12 L354.05 233.21 L352.71 234.12 L353.16 232.57 L351.88 231.57 L353.5 231.52Z" fill="white" stroke="#008000" stroke-width="0.8"/>
<path d="M384.9 231.92 L385.45 233.45 L387.07 233.5 L385.79 234.49 L386.24 236.04 L384.9 235.13 L383.56 236.04 L384.01 234.49 L382.73 233.5 L384.35 233.45Z" fill="white" stroke="#008000" stroke-width="0.8"/>
<path d="M415.75 235.79 L416.3 237.32 L417.92 237.37 L416.64 238.36 L417.09 239.91 L415.75 239 L414.41 239.91 L414.86 238.36 L413.58 237.37 L415.2 237.32Z" fill="white" stroke="#008000" stroke-width="0.8"/>
<path d="M446.6 236.22 L447.15 237.74 L448.77 237.79 L447.49 238.78 L447.94 240.34 L446.6 239.43 L445.26 240.34 L445.71 238.78 L444.43 237.79 L446.05 237.74Z" fill="white" stroke="#008000" stroke-width="0.8"/>
<path d="M384.9 258.8 L415.75 260.72 L446.6 263.67" stroke="#ff00ff" stroke-width="0.9" fill="none"/>
<path d="M384.9 260.87 L386.87 257.45 L382.93 257.45Z" fill="white" stroke="#ff00ff" stroke-width="0.8"/>
<path d="M415.75 262.79 L417.72 259.37 L413.78 259.37Z" fill="white" stroke="#ff00ff" stroke-width="0.8"/>
<path d="M446.6 265.74 L448.57 262.33 L444.63 262.33Z" fill="white" stroke="#ff00ff" stroke-width="0.8"/>
<path d="M354.05 310.31 L384.9 309.7 L415.75 312.29 L446.6 311.22" stroke="#00ff00" stroke-width="0.9" fill="none"/>
<path d="M354.05 312.38 L356.02 308.96 L352.08 308.96Z" fill="white" stroke="#00ff00" stroke-width="0.8"/>
<path d="M384.9 311.77 L386.87 308.35 L382.93 308.35Z" fill="white" stroke="#00ff00" stroke-width="0.8"/>
<path d="M415.75 314.36 L417.72 310.94 L413.78 310.94Z" fill="white" stroke="#00ff00" stroke-width="0.8"/>
<path d="M446.6 313.29 L448.57 309.88 L444.63 309.88Z" fill="white" stroke="#00ff00" stroke-width="0.8"/>
<path d="M323.2 319.51 L354.05 320.98 L384.9 320.37 L415.75 316.89 L446.6 316.89" stroke="#ff0000" stroke-width="0.9" fill="none"/>
<circle cx="323.2" cy="319.51" r="1.8" fill="white" stroke="#ff0000" stroke-width="0.8"/>
<circle cx="354.05" cy="320.98" r="1.8" fill="white" stroke="#ff0000" stroke-width="0.8"/>
<circle cx="384.9" cy="320.37" r="1.8" fill="white" stroke="#ff0000" stroke-width="0.8"/>
<circle cx="415.75" cy="316.89" r="1.8" fill="white" stroke="#ff0000" stroke-width="0.8"/>
<circle cx="446.6" cy="316.89" r="1.8" fill="white" stroke="#ff0000" stroke-width="0.8"/>
<path d="M384.9 324.11 L415.75 323.81 L446.6 323.81" stroke="#000000" stroke-width="0.9" fill="none"/>
<circle cx="384.9" cy="324.11" r="1.8" fill="white" stroke="#000000" stroke-width="0.8"/>
<circle cx="415.75" cy="323.81" r="1.8" fill="white" stroke="#000000" stroke-width="0.8"/>
<circle cx="446.6" cy="323.81" r="1.8" fill="white" stroke="#000000" stroke-width="0.8"/>
<rect x="310.9" y="214.6" width="148.1" height="152.4" fill="none" stroke="#4a4a4a" stroke-width="1.1"/>
<path d="M323.2 367v-3M323.2 214.6v3M335.54 367v-1.6M335.54 214.6v1.6M347.88 367v-3M347.88 214.6v3M360.22 367v-1.6M360.22 214.6v1.6M372.56 367v-3M372.56 214.6v3M384.9 367v-1.6M384.9 214.6v1.6M397.24 367v-3M397.24 214.6v3M409.58 367v-1.6M409.58 214.6v1.6M421.92 367v-3M421.92 214.6v3M434.26 367v-1.6M434.26 214.6v1.6M446.6 367v-3M446.6 214.6v3M310.9 367h3M459 367h-3M310.9 351.76h1.6M459 351.76h-1.6M310.9 336.52h3M459 336.52h-3M310.9 321.28h1.6M459 321.28h-1.6M310.9 306.04h3M459 306.04h-3M310.9 290.8h1.6M459 290.8h-1.6M310.9 275.56h3M459 275.56h-3M310.9 260.32h1.6M459 260.32h-1.6M310.9 245.08h3M459 245.08h-3M310.9 229.84h1.6M459 229.84h-1.6M310.9 214.6h3M459 214.6h-3" stroke="#4a4a4a" stroke-width="0.9" fill="none"/>
<text x="307.3" y="368.9" font-size="8.0" text-anchor="end" fill="#3a3a3a">200</text>
<text x="307.3" y="338.42" font-size="8.0" text-anchor="end" fill="#3a3a3a">300</text>
<text x="307.3" y="307.94" font-size="8.0" text-anchor="end" fill="#3a3a3a">400</text>
<text x="307.3" y="277.46" font-size="8.0" text-anchor="end" fill="#3a3a3a">500</text>
<text x="307.3" y="246.98" font-size="8.0" text-anchor="end" fill="#3a3a3a">600</text>
<text x="307.3" y="216.5" font-size="8.0" text-anchor="end" fill="#3a3a3a">700</text>
<text x="323.2" y="377" font-size="7.9" text-anchor="middle" fill="#3a3a3a">0.0</text>
<text x="347.88" y="377" font-size="7.9" text-anchor="middle" fill="#3a3a3a">0.2</text>
<text x="372.56" y="377" font-size="7.9" text-anchor="middle" fill="#3a3a3a">0.4</text>
<text x="397.24" y="377" font-size="7.9" text-anchor="middle" fill="#3a3a3a">0.6</text>
<text x="421.92" y="377" font-size="7.9" text-anchor="middle" fill="#3a3a3a">0.8</text>
<text x="446.6" y="377" font-size="7.9" text-anchor="middle" fill="#3a3a3a">1.0</text>
<text transform="translate(286.2 285.05) rotate(-90)" x="0" y="0" font-size="10.33" text-anchor="middle" fill="#3a3a3a">Raman peak position (cm<tspan dy="-3.6" font-size="6.3">-1</tspan><tspan dy="3.6">)</tspan></text>
<text transform="translate(384 390.3) scale(1 1.06)" font-size="10.2" text-anchor="middle" fill="#3a3a3a">Zr/(Hf+Zr) content</text>
<text x="385.8" y="406" font-size="10.5" text-anchor="middle" fill="#3a3a3a">(d)</text>
<text x="495.9" y="203.8" font-size="8.5" text-anchor="middle" fill="#3a3a3a">o-phase LO</text>
<rect x="468.3" y="208.3" width="51" height="190" fill="white" stroke="#4a4a4a" stroke-width="1.1"/>
<path d="M468.9 212.9H483.5" stroke="#000000" stroke-width="0.9"/>
<circle cx="476.2" cy="212.9" r="1.65" fill="white" stroke="#000000" stroke-width="0.8"/>
<text x="486.1" y="215.24" font-size="6.5" fill="#3a3a3a">B2 TO-exp</text>
<path d="M468.9 221.09H483.5" stroke="#ff0000" stroke-width="0.9"/>
<circle cx="476.2" cy="221.09" r="1.65" fill="white" stroke="#ff0000" stroke-width="0.8"/>
<text x="486.1" y="223.43" font-size="6.5" fill="#3a3a3a">A1 TO-exp</text>
<path d="M468.9 229.28H483.5" stroke="#00ff00" stroke-width="0.9"/>
<path d="M476.2 231.18 L478 228.05 L474.4 228.05Z" fill="white" stroke="#00ff00" stroke-width="0.8"/>
<text x="486.1" y="231.62" font-size="6.5" fill="#3a3a3a">A1 TO-exp</text>
<path d="M468.9 237.47H483.5" stroke="#ff00ff" stroke-width="0.9"/>
<path d="M476.2 239.37 L478 236.24 L474.4 236.24Z" fill="white" stroke="#ff00ff" stroke-width="0.8"/>
<text x="486.1" y="239.81" font-size="6.5" fill="#3a3a3a">B2 TO-exp</text>
<path d="M468.9 245.66H483.5" stroke="#008000" stroke-width="0.9"/>
<path d="M476.2 243.57 L476.7 244.97 L478.19 245.02 L477.01 245.92 L477.43 247.35 L476.2 246.51 L474.97 247.35 L475.39 245.92 L474.21 245.02 L475.7 244.97Z" fill="white" stroke="#008000" stroke-width="0.8"/>
<text x="486.1" y="248" font-size="6.5" fill="#3a3a3a">B1 TO-exp</text>
<path d="M468.9 253.85H483.5" stroke="#aaaaaa" stroke-width="0.9"/>
<text x="486.1" y="256.19" font-size="6.5" fill="#3a3a3a">A1 LO-sim</text>
<path d="M468.9 262.04H483.5" stroke="#aaaaaa" stroke-width="0.9"/>
<text x="486.1" y="264.38" font-size="6.5" fill="#3a3a3a">B2 LO-sim</text>
<path d="M468.9 270.23H483.5" stroke="#aaaaaa" stroke-width="0.9"/>
<text x="486.1" y="272.57" font-size="6.5" fill="#3a3a3a">A1 LO-sim</text>
<path d="M468.9 278.42H483.5" stroke="#aaaaaa" stroke-width="0.9"/>
<text x="486.1" y="280.76" font-size="6.5" fill="#3a3a3a">B2 LO-sim</text>
<path d="M468.9 286.61H483.5" stroke="#aaaaaa" stroke-width="0.9"/>
<text x="486.1" y="288.95" font-size="6.5" fill="#3a3a3a">B1 LO-sim</text>
<path d="M468.9 294.8H483.5" stroke="#aaaaaa" stroke-width="0.9"/>
<text x="486.1" y="297.14" font-size="6.5" fill="#3a3a3a">A1 LO-sim</text>
<path d="M468.9 302.99H483.5" stroke="#aaaaaa" stroke-width="0.9"/>
<text x="486.1" y="305.33" font-size="6.5" fill="#3a3a3a">A1 LO-sim</text>
<path d="M468.9 311.18H483.5" stroke="#aaaaaa" stroke-width="0.9"/>
<text x="486.1" y="313.52" font-size="6.5" fill="#3a3a3a">A2 LO-sim</text>
<path d="M468.9 319.37H483.5" stroke="#aaaaaa" stroke-width="0.9"/>
<text x="486.1" y="321.71" font-size="6.5" fill="#3a3a3a">B1 LO-sim</text>
<path d="M468.9 327.56H483.5" stroke="#aaaaaa" stroke-width="0.9"/>
<text x="486.1" y="329.9" font-size="6.5" fill="#3a3a3a">B2 LO-sim</text>
<path d="M468.9 335.75H483.5" stroke="#aaaaaa" stroke-width="0.9"/>
<text x="486.1" y="338.09" font-size="6.5" fill="#3a3a3a">A1 LO-sim</text>
<path d="M468.9 343.94H483.5" stroke="#aaaaaa" stroke-width="0.9"/>
<text x="486.1" y="346.28" font-size="6.5" fill="#3a3a3a">B1 LO-sim</text>
<path d="M468.9 352.13H483.5" stroke="#aaaaaa" stroke-width="0.9"/>
<text x="486.1" y="354.47" font-size="6.5" fill="#3a3a3a">A2 LO-sim</text>
<path d="M468.9 360.32H483.5" stroke="#aaaaaa" stroke-width="0.9"/>
<text x="486.1" y="362.66" font-size="6.5" fill="#3a3a3a">B2 LO-sim</text>
<path d="M468.9 368.51H483.5" stroke="#aaaaaa" stroke-width="0.9"/>
<text x="486.1" y="370.85" font-size="6.5" fill="#3a3a3a">B2 LO-sim</text>
<path d="M468.9 376.7H483.5" stroke="#aaaaaa" stroke-width="0.9"/>
<text x="486.1" y="379.04" font-size="6.5" fill="#3a3a3a">A2 LO-sim</text>
<path d="M468.9 384.89H483.5" stroke="#aaaaaa" stroke-width="0.9"/>
<text x="486.1" y="387.23" font-size="6.5" fill="#3a3a3a">A1 LO-sim</text>
<path d="M468.9 393.08H483.5" stroke="#aaaaaa" stroke-width="0.9"/>
<text x="486.1" y="395.42" font-size="6.5" fill="#3a3a3a">A2 LO-sim</text>
</svg>
</body></html>
